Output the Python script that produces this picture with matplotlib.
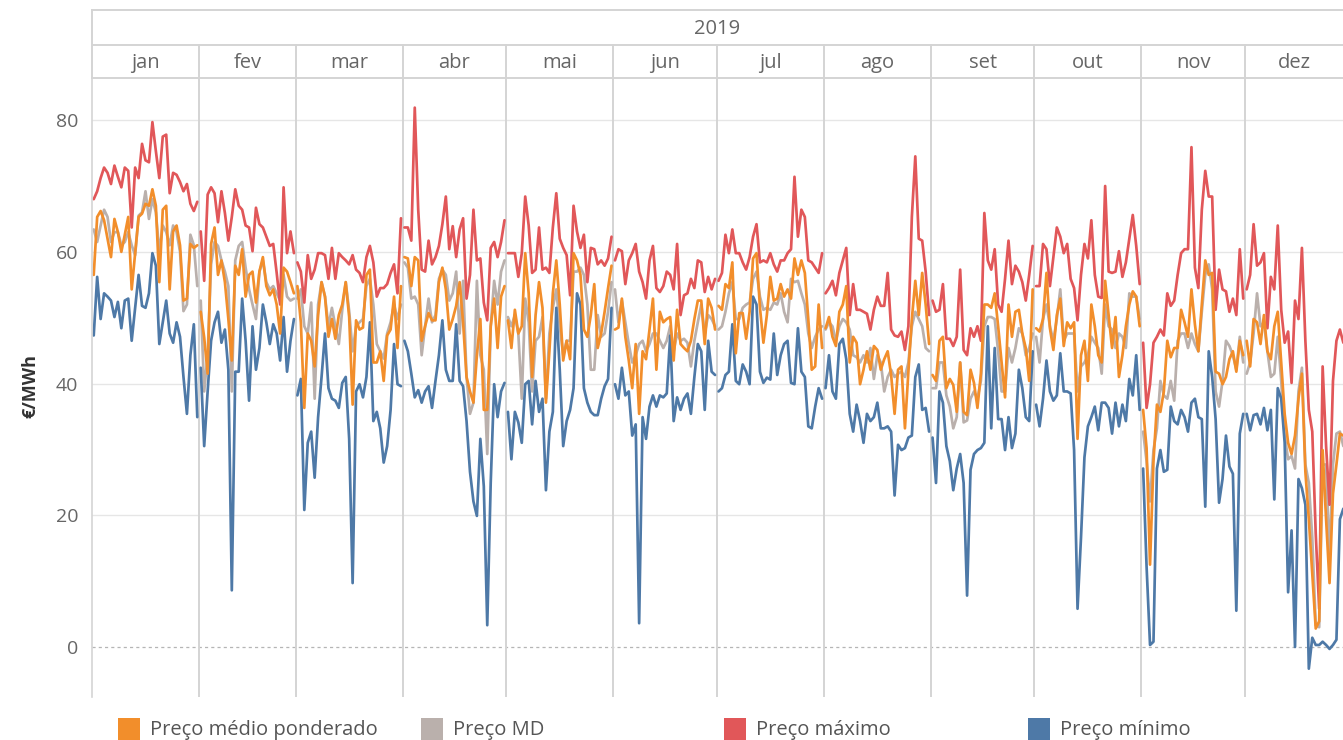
import matplotlib
matplotlib.use("Agg")
import matplotlib.pyplot as plt
from matplotlib.patches import Rectangle
import numpy as np

# ---------------------------------------------------------------------------
# Daily prices 2019 (€/MWh), one inner list per month
# ---------------------------------------------------------------------------
meses = ["jan", "fev", "mar", "abr", "mai", "jun",
         "jul", "ago", "set", "out", "nov", "dez"]
dias_no_mes = [31, 28, 31, 30, 31, 30, 31, 31, 30, 31, 30, 31]
ano = "2019"

preco_maximo = [
    [68.0, 69.2, 71.2, 72.8, 72.0, 70.3, 73.1, 71.4, 69.8, 72.8, 72.3, 63.7, 72.8, 71.2, 76.4, 73.9,
     73.6, 79.7, 75.3, 71.2, 77.5, 77.8, 68.9, 72.0, 71.7, 70.6, 69.2, 70.3, 67.3, 66.2, 67.6],
    [63.1, 55.6, 68.7, 69.8, 68.9, 64.5, 69.2, 65.9, 61.7, 65.3, 69.5, 67.0, 66.4, 64.0, 63.7, 60.1,
     66.7, 64.2, 63.7, 62.3, 60.9, 61.2, 56.8, 52.0, 69.8, 59.8, 63.1, 59.8],
    [58.4, 57.0, 52.3, 59.5, 55.9, 57.3, 59.8, 59.8, 59.5, 55.9, 60.6, 55.9, 59.8, 59.2, 58.7, 58.1,
     59.5, 57.3, 56.8, 55.4, 59.2, 60.9, 58.4, 53.2, 54.5, 54.5, 55.1, 56.8, 58.1, 53.7, 65.1],
    [63.7, 63.7, 61.7, 81.9, 66.4, 57.3, 57.0, 61.7, 58.1, 59.2, 60.9, 64.2, 68.4, 60.4, 63.9, 59.2,
     63.4, 65.1, 52.9, 56.5, 66.4, 58.7, 59.0, 52.3, 49.6, 60.6, 61.5, 59.2, 61.5, 64.8],
    [59.8, 59.8, 59.8, 56.2, 59.8, 68.4, 64.0, 56.8, 57.3, 63.7, 57.3, 57.6, 56.8, 63.7, 68.9, 62.0,
     60.6, 59.5, 53.4, 67.0, 63.1, 60.6, 62.6, 55.4, 60.6, 60.4, 58.1, 58.7, 57.9, 59.0, 62.3],
    [58.7, 60.4, 60.1, 55.1, 58.7, 59.8, 61.2, 57.0, 55.4, 52.9, 58.7, 60.9, 54.5, 53.9, 54.8, 57.0,
     56.5, 54.3, 61.2, 50.4, 53.4, 53.7, 55.9, 54.5, 58.7, 58.4, 53.9, 56.2, 54.3, 55.9],
    [55.6, 56.8, 62.6, 59.8, 63.4, 59.8, 59.8, 58.4, 57.3, 59.2, 62.3, 64.2, 58.4, 58.7, 58.4, 59.8,
     58.1, 57.0, 58.7, 58.7, 59.8, 60.4, 71.4, 62.3, 66.4, 65.3, 58.7, 58.4, 57.6, 56.8, 59.8],
    [53.7, 54.5, 55.6, 53.4, 56.8, 58.7, 60.6, 50.4, 55.1, 51.2, 51.2, 50.9, 50.6, 48.2, 51.2, 53.2,
     51.8, 51.8, 56.8, 48.2, 47.3, 47.1, 47.9, 45.1, 48.7, 65.3, 74.5, 62.0, 61.7, 57.0, 50.4],
    [52.6, 50.9, 51.2, 55.1, 46.8, 46.8, 45.7, 47.1, 57.3, 45.1, 44.3, 48.4, 47.1, 48.7, 46.5, 65.9,
     58.7, 57.3, 60.4, 52.0, 50.9, 55.9, 61.7, 55.1, 57.9, 57.0, 55.4, 52.6, 56.5, 60.9],
    [54.8, 54.8, 61.2, 60.4, 54.8, 59.2, 63.7, 62.3, 59.8, 61.2, 55.9, 54.5, 49.6, 56.5, 61.2, 59.0,
     64.8, 56.5, 53.2, 53.0, 70.0, 57.0, 56.8, 57.0, 60.1, 56.2, 58.4, 62.0, 65.6, 60.9, 55.1],
    [46.2, 36.3, 39.9, 46.2, 47.1, 48.2, 47.3, 53.7, 51.8, 52.6, 56.5, 59.8, 60.4, 60.4, 75.9, 57.6,
     54.5, 66.4, 72.3, 68.4, 68.4, 51.2, 57.3, 54.3, 54.0, 50.9, 52.9, 50.4, 60.4, 52.9],
    [54.3, 56.5, 64.2, 57.9, 58.4, 59.8, 48.4, 56.2, 54.3, 64.0, 51.2, 46.2, 47.9, 40.1, 52.6, 49.8,
     60.6, 46.5, 36.0, 32.7, 17.2, 5.8, 42.6, 30.5, 21.6, 40.4, 46.5, 48.2, 46.2],
]

preco_medio_ponderado = [
    [56.5, 65.3, 66.2, 64.8, 62.0, 59.2, 65.0, 63.0, 60.0, 62.6, 65.3, 54.3, 59.8, 65.3, 65.8, 67.3,
     67.0, 69.5, 67.0, 55.4, 66.4, 67.0, 54.3, 63.1, 64.0, 61.0, 52.6, 52.9, 61.2, 60.6, 61.0],
    [50.9, 47.0, 41.5, 61.2, 63.7, 56.5, 58.7, 55.4, 49.8, 43.5, 57.9, 56.5, 60.4, 53.2, 56.5, 57.0,
     52.3, 57.0, 59.2, 54.8, 53.4, 54.3, 52.0, 47.6, 57.6, 57.0, 55.4, 53.7],
    [54.8, 49.3, 36.3, 47.6, 46.5, 42.6, 50.4, 55.4, 53.2, 47.1, 49.8, 46.8, 50.4, 52.0, 55.4, 50.1,
     36.8, 49.6, 48.2, 48.5, 56.5, 57.3, 43.2, 43.2, 44.9, 40.4, 47.3, 48.2, 53.2, 45.4, 54.8],
    [59.2, 59.0, 54.8, 59.2, 58.7, 46.5, 48.7, 50.7, 49.6, 49.6, 55.4, 57.6, 54.3, 48.2, 49.8, 51.8,
     55.4, 49.3, 41.0, 38.8, 37.1, 44.3, 49.8, 36.0, 36.0, 48.7, 52.9, 45.4, 53.2, 54.8],
    [49.6, 45.4, 51.2, 47.6, 48.7, 59.8, 53.7, 41.0, 50.4, 55.4, 51.5, 37.1, 44.9, 53.7, 58.7, 52.0,
     43.5, 46.5, 43.7, 59.8, 58.7, 56.5, 48.2, 47.1, 50.4, 55.1, 45.4, 47.6, 50.9, 54.5, 57.9],
    [48.2, 48.5, 52.9, 47.1, 43.5, 39.3, 46.0, 35.4, 44.9, 43.7, 48.2, 52.9, 42.1, 50.9, 49.3, 49.8,
     50.1, 43.5, 51.2, 46.0, 45.4, 44.9, 46.5, 49.8, 52.6, 52.6, 46.0, 52.9, 51.5, 48.2],
    [51.8, 51.2, 55.1, 54.5, 58.4, 44.6, 50.7, 50.7, 46.8, 50.9, 59.0, 59.8, 51.5, 46.2, 50.4, 56.2,
     52.6, 52.9, 55.1, 53.2, 54.3, 52.9, 59.0, 56.5, 58.7, 56.8, 49.8, 42.1, 42.6, 52.0, 45.4],
    [48.4, 50.1, 47.1, 45.7, 50.9, 52.0, 54.8, 43.2, 47.1, 46.2, 39.9, 42.1, 44.9, 42.1, 45.7, 45.1,
     42.1, 43.7, 44.9, 41.3, 35.4, 42.1, 42.6, 33.2, 41.8, 49.8, 55.6, 50.4, 56.8, 52.0, 46.0],
    [41.3, 40.4, 46.5, 47.1, 39.3, 40.7, 39.8, 35.7, 43.2, 35.7, 35.2, 42.1, 40.1, 36.3, 41.5, 52.0,
     52.0, 51.5, 53.7, 48.7, 43.2, 37.9, 52.0, 47.1, 50.9, 51.2, 47.6, 45.4, 40.4, 54.3],
    [48.4, 47.9, 49.8, 56.8, 48.4, 45.1, 50.4, 52.9, 45.7, 49.3, 48.4, 49.3, 31.6, 44.3, 46.5, 40.4,
     52.0, 48.7, 44.3, 43.2, 55.6, 50.4, 45.4, 50.1, 41.0, 44.3, 48.7, 52.0, 54.0, 53.2, 48.7],
    [36.0, 30.2, 12.5, 28.2, 36.8, 35.7, 38.8, 46.5, 44.0, 45.4, 45.4, 51.2, 49.3, 47.1, 54.3, 49.0,
     44.9, 52.0, 58.7, 56.5, 56.8, 41.8, 41.5, 39.9, 41.0, 43.7, 44.9, 41.8, 46.5, 44.3],
    [46.5, 42.6, 49.8, 49.3, 46.0, 50.4, 44.9, 43.7, 48.7, 50.9, 43.2, 35.4, 31.0, 29.3, 32.1, 37.7,
     41.5, 26.6, 19.4, 11.1, 2.8, 3.9, 29.9, 19.4, 9.7, 23.3, 27.7, 32.4, 32.1],
]

preco_md = [
    [63.4, 61.5, 64.0, 66.4, 65.3, 61.5, 63.0, 63.0, 61.0, 61.5, 63.0, 61.0, 59.5, 65.5, 66.0, 69.2,
     65.0, 68.0, 66.0, 60.0, 64.0, 63.0, 61.0, 64.0, 63.0, 60.0, 51.0, 52.0, 62.6, 61.0, 54.8],
    [52.6, 38.8, 44.3, 58.1, 61.5, 60.9, 58.7, 57.0, 54.8, 38.8, 58.7, 60.9, 61.5, 57.6, 54.3, 52.0,
     49.8, 57.0, 58.7, 55.4, 54.3, 54.8, 53.7, 52.6, 56.5, 53.2, 52.6, 52.9],
    [52.9, 54.3, 48.7, 47.6, 52.3, 37.7, 52.0, 55.4, 53.2, 48.7, 51.5, 48.7, 46.0, 51.2, 55.4, 51.0,
     44.9, 48.7, 49.3, 49.8, 54.8, 55.9, 52.0, 46.0, 44.9, 43.8, 47.6, 49.3, 52.0, 49.8, 52.0],
    [58.4, 57.6, 52.9, 53.2, 52.0, 44.3, 48.7, 52.9, 49.3, 50.4, 55.9, 57.3, 56.5, 52.6, 53.7, 57.0,
     47.6, 55.6, 41.0, 35.4, 37.1, 55.6, 44.3, 42.1, 29.3, 48.7, 55.6, 52.0, 57.0, 58.7],
    [50.1, 48.7, 50.4, 47.6, 37.7, 52.9, 49.3, 38.8, 46.5, 47.1, 50.1, 37.7, 47.6, 51.5, 54.3, 48.7,
     44.3, 46.5, 46.5, 57.0, 57.0, 57.6, 56.5, 52.0, 42.1, 42.1, 50.4, 47.1, 47.6, 50.9, 55.4],
    [54.3, 49.3, 52.6, 49.3, 46.0, 43.2, 44.3, 46.0, 46.5, 44.9, 46.0, 47.6, 47.6, 46.5, 45.4, 46.5,
     48.7, 44.9, 47.6, 46.5, 46.8, 46.2, 42.6, 46.5, 49.3, 52.0, 47.6, 50.4, 49.8, 48.7],
    [48.2, 48.7, 50.9, 53.7, 55.4, 49.8, 49.8, 51.5, 52.0, 52.3, 55.9, 57.0, 53.2, 51.2, 51.5, 51.2,
     52.3, 52.0, 53.7, 50.9, 49.3, 55.9, 55.4, 55.6, 53.7, 52.0, 47.6, 45.4, 47.1, 48.2, 48.7],
    [48.2, 49.3, 48.7, 46.5, 48.7, 49.8, 49.3, 48.2, 44.3, 44.0, 43.2, 44.3, 43.2, 45.4, 40.7, 44.3,
     43.2, 38.8, 41.0, 42.1, 41.0, 41.5, 41.8, 41.0, 43.2, 48.7, 50.9, 49.8, 48.7, 45.4, 44.9],
    [39.3, 39.3, 43.2, 43.2, 38.2, 36.5, 33.2, 34.9, 43.2, 34.1, 34.4, 37.7, 38.8, 37.7, 40.4, 48.7,
     50.1, 50.1, 49.8, 44.9, 38.8, 38.8, 45.4, 43.2, 45.4, 48.4, 47.6, 44.3, 45.4, 47.6],
    [47.1, 43.2, 49.8, 52.0, 48.7, 46.5, 49.8, 54.3, 46.5, 47.6, 47.6, 47.6, 38.8, 42.6, 43.2, 44.3,
     47.1, 46.2, 45.4, 41.5, 52.0, 48.7, 48.2, 45.4, 47.6, 47.1, 45.4, 53.7, 53.2, 53.2, 49.8],
    [32.7, 28.2, 22.1, 29.9, 33.2, 40.4, 38.2, 37.7, 40.4, 37.4, 46.5, 47.6, 47.6, 45.4, 47.6, 46.0,
     44.9, 50.9, 56.5, 58.1, 54.3, 38.8, 36.5, 40.4, 46.5, 45.7, 44.3, 42.1, 47.1, 43.2],
    [41.5, 43.2, 47.6, 53.7, 48.7, 49.3, 44.9, 41.0, 41.5, 47.1, 40.4, 32.1, 28.5, 29.0, 27.1, 38.8,
     42.4, 27.7, 24.9, 16.6, 3.3, 3.0, 27.7, 27.7, 13.8, 27.7, 32.4, 32.7, 30.5],
]

preco_minimo = [
    [47.3, 56.2, 49.8, 53.7, 53.2, 52.6, 50.1, 52.4, 48.4, 52.6, 52.9, 46.5, 51.5, 56.5, 51.8, 51.5,
     53.7, 59.8, 57.9, 46.0, 49.3, 52.6, 47.6, 46.2, 49.3, 47.1, 41.0, 35.4, 44.3, 49.0, 34.9],
    [42.4, 30.5, 38.8, 46.5, 49.3, 50.9, 46.2, 48.2, 42.1, 8.6, 41.8, 41.8, 52.9, 46.5, 37.4, 48.7,
     42.1, 45.4, 52.0, 49.3, 46.0, 49.0, 47.6, 43.5, 50.1, 41.8, 46.5, 49.8],
    [38.2, 40.7, 20.8, 31.0, 32.7, 25.7, 34.9, 41.0, 47.6, 39.3, 37.7, 37.4, 36.3, 40.1, 41.0, 31.6,
     9.7, 38.8, 39.9, 37.9, 41.0, 49.3, 34.3, 35.7, 33.2, 28.0, 30.5, 36.0, 46.0, 39.9, 39.6],
    [46.5, 44.9, 41.5, 37.9, 39.0, 37.1, 38.8, 39.6, 36.3, 40.4, 44.3, 49.6, 42.1, 40.4, 40.4, 49.0,
     40.4, 39.6, 34.3, 26.6, 22.1, 19.9, 31.6, 24.4, 3.3, 24.9, 39.9, 34.9, 38.8, 40.1],
    [35.7, 28.5, 35.7, 34.1, 31.0, 39.9, 40.4, 33.8, 40.4, 35.7, 37.7, 23.8, 32.7, 35.7, 51.5, 42.1,
     30.5, 34.3, 36.0, 39.3, 53.7, 52.0, 39.3, 37.1, 35.7, 35.2, 35.2, 37.7, 39.6, 40.7, 51.5],
    [39.9, 37.7, 42.4, 38.2, 38.8, 32.1, 33.8, 3.6, 34.9, 31.6, 36.5, 38.2, 36.5, 38.2, 37.9, 38.5,
     47.3, 34.3, 37.9, 36.0, 37.7, 38.5, 35.4, 41.0, 46.0, 44.9, 36.0, 46.5, 41.8, 41.3],
    [38.8, 39.3, 41.3, 41.8, 49.0, 40.4, 39.9, 42.9, 41.8, 39.9, 53.2, 52.0, 41.8, 40.1, 40.9, 40.6,
     47.6, 41.3, 44.3, 46.0, 46.5, 40.1, 39.9, 48.4, 41.8, 41.0, 33.5, 33.2, 36.5, 39.3, 37.7],
    [39.3, 44.3, 38.8, 37.7, 46.0, 46.8, 43.7, 35.4, 32.7, 36.8, 34.3, 31.0, 35.4, 34.3, 34.9, 37.1,
     33.2, 33.2, 33.5, 32.7, 23.0, 30.7, 29.9, 30.2, 31.8, 32.1, 41.0, 42.9, 36.0, 36.3, 32.7],
    [31.8, 24.9, 38.8, 37.1, 30.5, 28.2, 23.8, 27.1, 29.3, 24.9, 7.8, 26.9, 29.3, 29.9, 30.2, 31.0,
     48.7, 33.2, 45.4, 34.6, 34.6, 29.9, 34.9, 30.2, 32.4, 42.1, 39.3, 34.9, 34.3, 44.9],
    [36.8, 33.5, 37.7, 43.5, 38.8, 37.4, 38.2, 44.6, 38.8, 38.8, 38.5, 29.9, 5.8, 16.6, 28.8, 33.5,
     34.9, 36.5, 32.9, 37.1, 37.1, 36.3, 32.4, 37.1, 33.5, 36.8, 34.3, 40.7, 38.2, 44.3, 36.0],
    [27.1, 12.2, 0.3, 0.8, 27.1, 29.9, 26.6, 26.9, 36.5, 34.3, 33.8, 36.0, 34.9, 32.7, 37.1, 37.7,
     34.9, 34.6, 21.3, 44.9, 41.0, 34.6, 21.9, 25.5, 32.1, 27.4, 26.3, 5.5, 32.4, 35.4],
    [35.4, 32.9, 35.2, 35.4, 33.8, 36.3, 32.9, 36.0, 22.4, 39.3, 37.7, 31.0, 8.3, 17.7, 0.0, 25.5,
     24.1, 21.6, -3.3, 1.4, 0.3, 0.3, 0.8, 0.3, -0.3, 0.3, 1.1, 19.4, 21.0],
]

series = [
    ("Preço médio ponderado", preco_medio_ponderado, "#F28E2B"),
    ("Preço MD", preco_md, "#BAB0AC"),
    ("Preço máximo", preco_maximo, "#E15759"),
    ("Preço mínimo", preco_minimo, "#4E79A7"),
]
draw_order = ["Preço MD", "Preço máximo", "Preço mínimo", "Preço médio ponderado"]

# ---------------------------------------------------------------------------
# Layout (pixel based)
# ---------------------------------------------------------------------------
W, H = 1343, 740
FONT = "Open Sans"
TXT = "#666666"
GRID = "#e6e6e6"
SEP = "#d4d4d4"

fig = plt.figure(figsize=(W / 100, H / 100), dpi=100)
fig.patch.set_facecolor("white")


def fx(px):
    return px / W


def fy(py):
    return 1 - py / H


LEFT, RIGHT, TOP, BOTTOM = 92, 1343, 78, 697
starts = np.concatenate([[0], np.cumsum(dias_no_mes)[:-1]])
x_max = 362.4

ax = fig.add_axes([fx(LEFT), fy(BOTTOM), (RIGHT - LEFT) / W, (BOTTOM - TOP) / H])
ax.set_xlim(0, x_max)
ax.set_ylim(-7.6, 86.4)

for v in (20, 40, 60, 80):
    ax.axhline(v, color=GRID, lw=1.0, zorder=0)
ax.axhline(0, color="#b5b5b5", lw=0.9, ls=(0, (2.5, 2.5)), zorder=0)
for s in starts[1:]:
    ax.axvline(s, color=SEP, lw=1.4, zorder=0.5)

# one line segment per month pane
for name in draw_order:
    label, data, color = next(t for t in series if t[0] == name)
    for m, vals in enumerate(data):
        xs = starts[m] + np.arange(len(vals)) + 0.5
        ax.plot(xs, vals, color=color, lw=1.95, solid_joinstyle="round",
                solid_capstyle="round", zorder=2, clip_on=True)

for sp in ("top", "right", "bottom"):
    ax.spines[sp].set_visible(False)
ax.spines["left"].set_color(SEP)
ax.spines["left"].set_linewidth(1.2)
ax.set_xticks([])
ax.set_yticks([0, 20, 40, 60, 80])
ax.set_yticklabels(["0", "20", "40", "60", "80"], fontsize=14, color=TXT, family=FONT)
ax.tick_params(axis="y", length=0, pad=10)

fig.text(fx(30), fy(386), "€/MWh", rotation=90, ha="center", va="center",
         fontsize=13, fontweight="bold", color="#333333", family=FONT)

# header with year and month panes
hax = fig.add_axes([fx(LEFT), fy(TOP), (RIGHT - LEFT) / W, (TOP - 10) / H])
hax.set_xlim(0, x_max)
hax.set_ylim(0, 2)
hax.axis("off")
hax.axhline(2, color=SEP, lw=1.4, clip_on=False)
hax.axhline(0.97, color=SEP, lw=1.4)
hax.axhline(0, color=SEP, lw=1.4, clip_on=False)
hax.axvline(0, color=SEP, lw=1.4, clip_on=False)
for s in starts[1:]:
    hax.plot([s, s], [0, 0.97], color=SEP, lw=1.4)
hax.text(x_max / 2, 1.45, ano, ha="center", va="center", fontsize=14.5, color=TXT, family=FONT)
for m, nome in enumerate(meses):
    a = starts[m]
    b = min(starts[m] + dias_no_mes[m], x_max)
    hax.text((a + b) / 2, 0.44, nome, ha="center", va="center", fontsize=14.5,
             color=TXT, family=FONT)

# legend along the bottom edge
leg_x = [118, 421, 724, 1028]
for (label, _, color), x0 in zip(series, leg_x):
    fig.add_artist(Rectangle((fx(x0), fy(740)), 22 / W, 22 / H, transform=fig.transFigure,
                             facecolor=color, edgecolor="none"))
    fig.text(fx(x0 + 32), fy(730), label, ha="left", va="center", fontsize=14.5,
             color="#555555", family=FONT)

fig.savefig("out.png", dpi=100, facecolor="white")
